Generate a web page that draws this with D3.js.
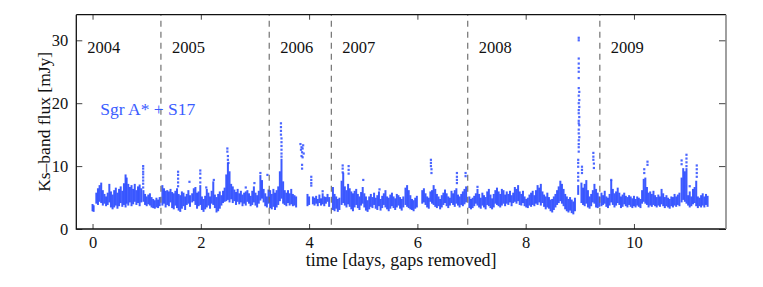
<!DOCTYPE html>
<html>
<head>
<meta charset="utf-8">
<script src="https://cdn.jsdelivr.net/npm/d3@7"></script>
<style>
  body { margin: 0; background: #fff; }
</style>
</head>
<body>
<div id="chart"></div>
<script>
// each entry: [time (days), low flux, high flux] of the dense band, mJy
var band2004 = [
  [0.00,3.0,3.8],[0.02,2.9,3.6],[0.07,4.2,5.6],[0.10,4.0,6.3],[0.13,4.5,6.8],[0.16,4.3,7.2],
  [0.19,3.9,6.0],[0.22,4.2,5.4],[0.25,3.8,5.0],[0.28,4.0,5.6],[0.31,4.4,7.0],[0.34,3.6,5.8],
  [0.37,3.3,5.3],[0.40,3.6,6.0],[0.43,3.9,6.4],[0.46,3.4,5.6],[0.49,3.8,6.2],[0.52,4.3,6.6],
  [0.55,3.7,5.9],[0.58,4.0,7.1],[0.61,3.6,8.5],[0.63,4.2,8.0],[0.66,3.9,7.0],[0.69,4.4,6.5],
  [0.72,3.8,6.8],[0.75,4.1,6.2],[0.78,4.5,7.0],[0.81,4.0,6.0],[0.84,4.3,6.6],[0.87,3.8,6.9],
  [0.90,4.4,6.3],[0.94,4.5,6.0],[0.97,4.0,5.4],[1.00,3.8,5.0],[1.03,4.1,5.3],[1.06,3.9,5.5],
  [1.09,3.6,4.9],[1.12,3.5,4.6],[1.15,3.4,4.4],[1.18,3.6,4.8],[1.21,3.5,4.5],[1.24,3.8,4.9]
];
var band2005 = [
  [1.29,3.9,6.8],[1.32,4.2,6.3],[1.35,3.6,5.9],[1.38,4.0,6.0],[1.41,3.8,5.8],[1.44,4.4,6.2],
  [1.47,3.5,5.7],[1.50,3.3,5.5],[1.53,3.9,5.9],[1.56,3.5,6.3],[1.59,3.1,5.4],[1.62,2.9,5.2],
  [1.65,3.4,5.8],[1.68,3.8,5.6],[1.71,3.2,5.0],[1.74,4.0,5.4],[1.77,4.2,6.0],[1.80,3.7,5.2],
  [1.84,4.4,5.5],[1.87,4.6,6.3],[1.90,4.0,6.5],[1.93,3.4,5.6],[1.96,3.8,5.8],[1.99,4.0,6.8],
  [2.02,3.2,5.0],[2.05,2.9,4.6],[2.08,3.3,5.1],[2.11,3.6,6.2],[2.14,3.9,5.6],[2.17,3.4,5.0],
  [2.20,4.2,5.9],[2.23,4.0,7.4],[2.26,3.5,5.3],[2.29,2.8,4.9],[2.32,3.0,5.4],[2.35,3.4,5.8],
  [2.38,3.9,5.2],[2.41,4.3,5.9],[2.44,4.5,6.4],[2.47,4.6,8.5],[2.50,4.8,10.4],[2.53,4.4,9.0],
  [2.56,4.9,7.0],[2.59,4.3,6.6],[2.62,4.6,6.1],[2.65,4.0,5.7],[2.68,4.5,6.2],[2.71,4.1,5.5],
  [2.74,4.4,5.9],[2.77,3.8,5.3],[2.80,4.2,5.6],[2.83,3.9,5.8],[2.86,4.5,6.0],[2.89,4.2,5.5],
  [2.92,3.8,5.1],[2.95,4.0,5.9],[2.98,4.4,6.6],[3.01,3.9,5.6],[3.04,3.6,5.2],[3.07,4.2,5.9],
  [3.10,4.7,8.4],[3.13,5.0,7.6],[3.16,4.4,6.2],[3.19,3.8,5.5],[3.22,3.6,5.0],[3.25,4.2,6.1]
];
var band2006 = [
  [3.28,3.5,6.0],[3.31,3.3,5.4],[3.34,3.7,6.2],[3.37,3.2,5.6],[3.40,3.6,6.0],[3.43,4.0,6.6],
  [3.46,4.6,9.0],[3.49,5.0,11.0],[3.52,4.2,7.4],[3.55,4.0,6.0],[3.58,3.8,5.6],[3.61,4.3,6.0],
  [3.64,3.9,5.5],[3.67,4.1,6.2],[3.70,3.8,5.4],[3.73,3.9,5.2],[3.76,3.6,5.0],[3.97,3.8,5.4],
  [4.00,4.0,5.0],[4.07,4.1,5.0],[4.10,3.9,4.8],[4.13,4.2,5.1],[4.16,3.8,4.6],[4.19,4.3,5.3],
  [4.22,3.9,4.7],[4.25,4.1,5.5],[4.28,3.8,5.0],[4.31,4.2,4.9],[4.34,4.5,5.4],[4.37,3.7,4.9]
];
var band2007 = [
  [4.44,3.2,6.5],[4.47,3.0,5.4],[4.50,3.4,5.0],[4.53,2.9,4.6],[4.56,3.2,4.8],[4.60,4.0,7.5],
  [4.63,4.3,8.8],[4.66,3.9,6.6],[4.69,3.6,6.0],[4.72,4.1,7.0],[4.75,3.7,6.3],[4.78,3.3,5.8],
  [4.81,3.0,5.5],[4.84,3.6,5.9],[4.87,4.0,6.2],[4.90,3.5,5.4],[4.93,3.2,5.0],[4.96,3.9,5.7],
  [4.99,4.2,6.5],[5.02,3.6,5.5],[5.05,3.1,5.0],[5.08,2.9,4.4],[5.11,3.3,5.0],[5.14,3.7,5.4],
  [5.17,3.5,4.9],[5.20,4.0,5.6],[5.23,3.4,4.8],[5.26,3.2,5.2],[5.29,3.8,5.8],[5.32,3.1,4.6],
  [5.35,3.5,5.1],[5.38,4.0,5.5],[5.41,3.6,6.0],[5.44,3.3,5.0],[5.47,3.0,4.8],[5.50,3.4,5.3],
  [5.53,3.8,5.6],[5.56,3.5,5.0],[5.59,3.2,4.7],[5.62,3.6,5.4],[5.65,3.9,5.2],[5.68,3.4,4.9],
  [5.71,3.1,4.6],[5.74,3.6,5.0],[5.78,4.0,6.4],[5.81,3.7,6.8],[5.84,3.5,6.0],[5.87,3.3,5.2],
  [5.90,3.2,4.6],[5.93,3.0,4.4],[5.96,3.4,4.8],[5.99,3.6,5.1],[6.09,4.2,6.0],[6.12,4.4,6.3],
  [6.15,4.0,5.5],[6.18,3.6,5.0],[6.21,3.4,4.8],[6.24,4.5,5.8],[6.27,4.2,6.0],[6.30,4.0,6.8],
  [6.33,3.7,6.2],[6.36,3.5,5.4],[6.39,3.8,5.0],[6.42,3.3,4.6],[6.45,3.6,5.2],[6.48,4.0,5.6],
  [6.51,4.3,6.1],[6.54,3.8,5.5],[6.57,3.5,5.0],[6.60,3.9,4.8],[6.63,4.3,5.9],[6.66,4.0,5.5],
  [6.69,3.7,6.0],[6.72,4.2,6.3],[6.75,3.9,5.3],[6.78,3.6,5.0],[6.81,4.0,5.4],[6.84,3.8,5.8],
  [6.87,4.1,6.2],[6.90,4.4,6.6]
];
var band2008 = [
  [6.96,3.5,5.0],[6.99,3.3,4.6],[7.02,3.5,4.8],[7.05,3.8,5.1],[7.08,4.2,5.5],[7.11,3.9,6.2],
  [7.14,3.6,5.4],[7.17,3.4,4.8],[7.20,3.9,5.6],[7.23,3.6,5.2],[7.26,3.3,4.9],[7.29,4.0,5.8],
  [7.32,3.8,6.2],[7.35,3.5,5.3],[7.38,3.3,4.7],[7.41,3.6,5.4],[7.44,4.2,6.0],[7.47,4.0,6.4],
  [7.50,3.8,5.8],[7.53,3.6,5.4],[7.56,3.9,6.2],[7.59,4.2,6.0],[7.62,3.8,5.3],[7.65,4.2,5.8],
  [7.68,4.0,5.4],[7.71,4.4,5.9],[7.74,3.8,5.2],[7.77,4.3,5.6],[7.80,4.5,6.5],[7.83,4.2,6.2],
  [7.86,4.6,6.8],[7.89,4.0,5.8],[7.92,3.9,5.4],[7.95,4.3,5.9],[7.98,3.8,5.0],[8.01,3.6,4.6],
  [8.04,3.5,4.8],[8.07,3.9,5.3],[8.10,3.7,5.6],[8.13,4.0,5.9],[8.16,3.8,5.2],[8.19,4.2,6.0],
  [8.22,4.0,6.8],[8.25,4.4,6.4],[8.28,3.9,7.0],[8.31,4.3,5.8],[8.34,3.7,5.3],[8.37,3.3,5.0],
  [8.40,3.6,5.6],[8.43,3.4,4.9],[8.46,3.0,4.5],[8.49,2.8,4.6],[8.52,3.2,5.0],[8.55,3.6,5.4],
  [8.58,4.0,6.0],[8.61,4.3,6.6],[8.64,4.6,7.5],[8.67,4.2,7.0],[8.70,3.8,6.2],[8.73,3.3,5.4],
  [8.76,3.0,5.0],[8.79,2.8,4.6],[8.82,3.1,4.9],[8.85,2.7,4.5],[8.88,2.5,4.2],[8.91,3.0,4.8],
  [8.97,5.6,6.8],[9.03,4.3,7.2],[9.06,4.0,6.4],[9.09,3.8,7.0],[9.12,4.2,7.6],[9.15,3.6,6.0],
  [9.18,3.4,5.0],[9.21,3.8,5.4],[9.24,4.4,6.0],[9.27,4.2,7.0],[9.30,3.6,6.2],[9.33,3.5,5.6],
  [9.36,3.7,5.0]
];
var band2009 = [
  [9.40,3.8,5.6],[9.43,4.0,5.2],[9.46,4.2,5.9],[9.49,3.7,5.0],[9.52,3.5,4.8],[9.55,3.9,5.4],
  [9.58,4.4,7.6],[9.61,4.0,6.2],[9.64,3.6,5.5],[9.67,3.9,5.8],[9.70,4.3,6.4],[9.73,4.0,5.6],
  [9.76,3.5,5.0],[9.79,3.7,5.3],[9.82,4.1,5.6],[9.85,3.8,5.1],[9.88,3.6,4.9],[9.91,4.0,5.2],
  [9.94,3.7,5.0],[9.97,3.5,4.7],[10.00,3.8,5.1],[10.03,3.6,4.6],[10.06,3.9,5.0],[10.09,3.7,4.8],
  [10.12,3.5,4.6],[10.15,4.2,6.0],[10.18,4.5,7.8],[10.21,4.2,8.0],[10.24,4.0,6.5],[10.27,3.6,5.6],
  [10.30,3.9,5.8],[10.33,3.7,5.4],[10.36,4.0,5.9],[10.39,3.8,5.2],[10.42,3.6,4.9],[10.45,3.9,5.3],
  [10.48,3.7,5.0],[10.51,4.1,6.2],[10.54,3.8,5.5],[10.57,3.5,4.9],[10.60,3.8,5.2],[10.63,3.6,4.8],
  [10.66,3.4,4.6],[10.69,3.8,5.0],[10.72,3.6,4.9],[10.75,3.9,5.4],[10.78,3.7,5.0],[10.81,4.0,5.3],
  [10.84,3.8,5.6],[10.88,4.4,8.0],[10.91,4.8,9.5],[10.94,4.5,9.0],[10.97,4.2,9.5],[11.00,3.9,5.2],
  [11.03,3.6,5.8],[11.06,3.8,5.0],[11.09,4.1,6.2],[11.12,4.3,6.5],[11.15,3.8,7.5],[11.18,3.5,5.0],
  [11.21,3.8,4.8],[11.24,3.6,5.2],[11.27,3.9,5.5],[11.30,3.6,5.0],[11.33,4.0,5.4],[11.36,3.7,5.1]
];
// isolated flare samples: [time (days), flux]
var flarePts = [
  [0.935,10.0],[0.935,9.6],[0.935,9.1],[0.935,8.7],[0.935,8.2],[0.935,7.7],[0.935,7.2],[0.935,6.6],
  [1.58,9.1],[1.58,8.6],[1.58,8.0],[1.58,7.4],[1.58,6.8],[1.79,7.5],
  [1.99,9.3],[1.99,8.8],[1.99,8.1],[1.99,7.4],[2.10,6.6],[2.24,7.8],
  [2.49,12.8],[2.49,12.3],[2.50,11.6],[2.50,11.0],[2.51,10.5],[2.83,6.6],[2.99,7.3],[3.10,8.9],[3.23,8.6],
  [3.48,16.8],[3.48,16.2],[3.48,15.6],[3.48,15.0],[3.49,14.4],[3.49,13.8],[3.49,13.2],[3.49,12.6],
  [3.49,12.0],[3.49,11.5],
  [3.84,13.5],[3.85,12.6],[3.86,13.0],[3.87,12.2],[3.88,12.8],[3.89,13.3],[3.90,12.0],[3.86,11.6],
  [3.88,11.4],[3.87,10.2],[3.87,9.6],[4.04,8.3],[4.04,7.8],[4.04,7.3],[4.04,6.9],[4.25,6.0],
  [4.62,10.1],[4.62,9.6],[4.62,9.0],[4.73,10.0],[4.73,9.4],[4.73,8.8],[5.00,7.8],[5.30,6.3],
  [6.25,11.0],[6.25,10.5],[6.25,10.0],[6.26,9.5],[6.26,8.9],[6.73,8.9],[6.73,8.3],[6.73,7.8],[6.73,7.3],
  [6.89,8.9],[6.89,8.4],[7.11,6.7],
  [8.98,30.4],[8.98,30.0],[8.98,27.1],[8.98,26.3],[8.98,25.6],[8.98,25.0],[8.98,24.0],[8.98,22.4],
  [8.99,21.8],[8.98,21.2],[8.99,20.5],[8.98,20.0],[8.99,19.4],[8.98,18.9],[8.98,18.4],[8.99,17.8],
  [8.98,17.2],[8.98,16.8],[8.99,16.5],[8.98,15.8],[8.98,15.2],[8.99,14.6],[8.98,14.1],[8.98,13.5],
  [8.98,13.0],[8.98,12.3],[8.97,11.0],[8.97,10.5],[8.97,9.9],[8.97,8.9],[8.97,8.3],[8.97,7.7],
  [9.04,9.9],[9.04,9.4],[9.04,8.9],[9.25,12.1],[9.25,11.5],[9.25,11.0],[9.26,10.4],[9.26,9.7],
  [9.58,7.8],[10.19,9.5],[10.19,8.9],[10.25,10.7],[10.25,10.2],
  [10.88,10.9],[10.88,10.3],[10.97,11.8],[10.97,11.2],[10.97,10.6],[10.97,10.0],[11.03,6.8],
  [11.16,10.1],[11.16,9.5],[11.16,8.9],[11.16,8.3]
];

var years = ["2004", "2005", "2006", "2007", "2008", "2009"];
var yearBreaks = [1.263, 3.263, 4.41, 6.93, 9.37];
var xTicks = [0, 2, 4, 6, 8, 10];
var yTicks = [0, 10, 20, 30];

var W = 763, H = 287;
var margin = { left: 76.3, top: 14.7, right: 37, bottom: 58 };
var width = W - margin.left - margin.right,
  height = H - margin.top - margin.bottom;
var blue = "#2d4cff";
var serif = "'Liberation Serif', 'Times New Roman', serif";

var svg = d3.select("#chart").append("svg")
  .attr("width", W)
  .attr("height", H);

var xScale = d3.scaleLinear().domain([-0.3, 11.7]).range([0, width]);
var yScale = d3.scaleLinear().domain([0, 34.07]).range([height, 0]);

var g = svg.append("g")
  .attr("transform", "translate(" + margin.left + "," + margin.top + ")");

// data: dense band as narrow columns, flares as single squares
var bands = [].concat(band2004, band2005, band2006, band2007, band2008, band2009);
g.selectAll(".band")
  .data(bands)
  .enter().append("rect")
  .attr("class", "band")
  .attr("x", function (d) { return xScale(d[0]) - 1.0; })
  .attr("y", function (d) { return yScale(d[2]) - 1.1; })
  .attr("width", 2.0)
  .attr("height", function (d) { return yScale(d[1]) - yScale(d[2]) + 2.2; })
  .attr("fill", blue)
  .attr("opacity", 0.92);

g.selectAll(".pt")
  .data(flarePts)
  .enter().append("rect")
  .attr("class", "pt")
  .attr("x", function (d) { return xScale(d[0]) - 1.1; })
  .attr("y", function (d) { return yScale(d[1]) - 1.1; })
  .attr("width", 2.2)
  .attr("height", 2.2)
  .attr("fill", blue)
  .attr("opacity", 0.85);

// year separators
g.selectAll(".sep")
  .data(yearBreaks)
  .enter().append("line")
  .attr("x1", function (d) { return xScale(d); })
  .attr("x2", function (d) { return xScale(d); })
  .attr("y1", 0)
  .attr("y2", height)
  .attr("stroke", "#666")
  .attr("stroke-width", 1.1)
  .attr("stroke-dasharray", "6,5")
  .attr("stroke-dashoffset", -6);

var labelX = [xScale.range()[0]].concat(yearBreaks.map(function (d) { return xScale(d); }));
g.selectAll(".year")
  .data(years)
  .enter().append("text")
  .attr("x", function (d, i) { return labelX[i] + 11; })
  .attr("y", 38.5)
  .style("font-family", serif)
  .style("font-size", "16.5px")
  .attr("fill", "#111")
  .text(function (d) { return d; });

g.append("text")
  .attr("x", 24)
  .attr("y", 100.5)
  .style("font-family", serif)
  .style("font-size", "17.5px")
  .attr("fill", "#3a5cff")
  .text("Sgr A* + S17");

// axes, ticks pointing inward
var axB = g.append("g").attr("transform", "translate(0," + height + ")")
  .call(d3.axisBottom(xScale).tickValues(xTicks).tickSize(-5).tickPadding(7));
var axT = g.append("g")
  .call(d3.axisTop(xScale).tickValues(xTicks).tickSize(-5).tickFormat(""));
var axL = g.append("g")
  .call(d3.axisLeft(yScale).tickValues(yTicks).tickSize(-6).tickPadding(8));
var axR = g.append("g").attr("transform", "translate(" + width + ",0)")
  .call(d3.axisRight(yScale).tickValues(yTicks).tickSize(-7).tickFormat(""));

[axB, axT, axL, axR].forEach(function (a) {
  a.select(".domain").remove();
  a.selectAll(".tick line").attr("stroke", "#444");
  a.selectAll("text")
    .style("font-family", serif)
    .style("font-size", "16.5px")
    .attr("fill", "#111");
});

g.append("path")
  .attr("d", "M0,0H" + width + "M0,0V" + height + "H" + width)
  .attr("fill", "none").attr("stroke", "#111").attr("stroke-width", 1.3);
g.append("line")
  .attr("x1", width).attr("x2", width).attr("y1", 0).attr("y2", height)
  .attr("stroke", "#888").attr("stroke-width", 1.6);

svg.append("text")
  .attr("x", margin.left + width / 2)
  .attr("y", 266)
  .attr("text-anchor", "middle")
  .style("font-family", serif)
  .style("font-size", "18px")
  .attr("fill", "#111")
  .text("time [days, gaps removed]");

svg.append("text")
  .attr("transform", "translate(50," + (margin.top + height / 2) + ") rotate(-90)")
  .attr("text-anchor", "middle")
  .style("font-family", serif)
  .style("font-size", "17.5px")
  .attr("fill", "#111")
  .text("Ks–band flux [mJy]");
</script>
</body>
</html>
